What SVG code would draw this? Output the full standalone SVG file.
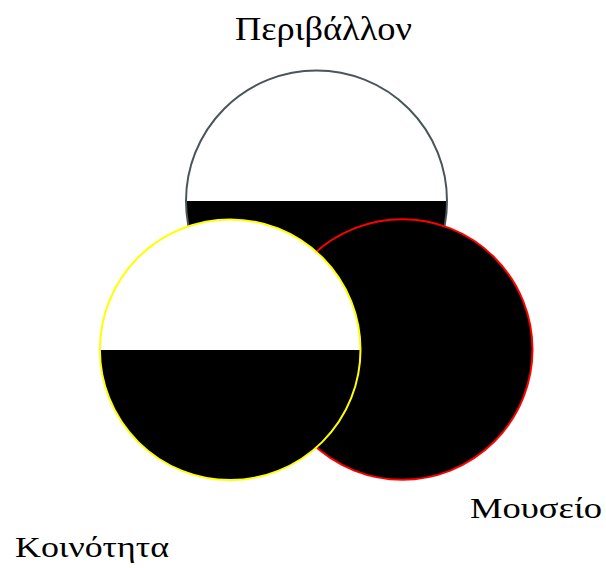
<svg xmlns="http://www.w3.org/2000/svg" width="606" height="568" viewBox="0 0 606 568">
<style>
.lbl{font-family:"Liberation Serif","Times New Roman",serif;fill:#000}
</style>
<defs>
<clipPath id="bot1"><rect x="0" y="201" width="606" height="200"/></clipPath>
<clipPath id="bot2"><rect x="0" y="350" width="606" height="200"/></clipPath>
</defs>
<rect width="606" height="568" fill="#fff"/>
<g id="node-perivallon">
<circle cx="316.5" cy="201" r="130.5" fill="#fff"/>
<circle cx="316.5" cy="201" r="130.5" fill="#000" clip-path="url(#bot1)"/>
<circle cx="316.5" cy="201" r="130.5" fill="none" stroke="#4a5559" stroke-width="2"/>
<text class="lbl" x="235" y="39.5" font-size="34" textLength="177" lengthAdjust="spacingAndGlyphs">Περιβάλλον</text>
</g>
<g id="node-mouseio">
<circle cx="402.3" cy="349.5" r="130.2" fill="#000" stroke="#ff0000" stroke-width="2"/>
<text class="lbl" x="470" y="518" font-size="30" textLength="132" lengthAdjust="spacingAndGlyphs">Μουσείο</text>
</g>
<g id="node-koinotita">
<circle cx="230.2" cy="349.7" r="130.3" fill="#fff"/>
<circle cx="230.2" cy="349.7" r="130.3" fill="#000" clip-path="url(#bot2)"/>
<circle cx="230.2" cy="349.7" r="130.3" fill="none" stroke="#ffff00" stroke-width="2"/>
<text class="lbl" x="15" y="557" font-size="30" textLength="154" lengthAdjust="spacingAndGlyphs">Κοινότητα</text>
</g>
<g id="connectors"></g>
</svg>
